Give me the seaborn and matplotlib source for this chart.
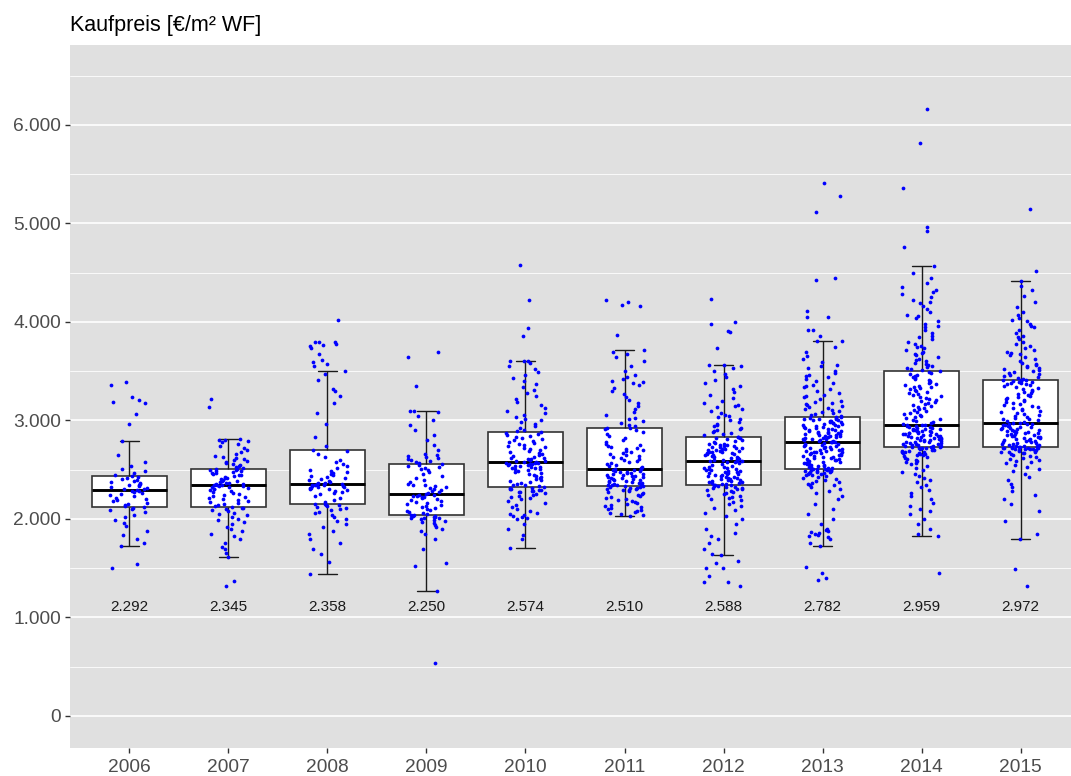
import numpy as np
import pandas as pd
import matplotlib
matplotlib.use("Agg")
import matplotlib.pyplot as plt
import seaborn as sns
from matplotlib.ticker import FuncFormatter, MultipleLocator

# Kaufpreise je Jahr [EUR/m² WF]
jahre = ["2006", "2007", "2008", "2009", "2010", "2011", "2012", "2013", "2014", "2015"]

preis_2006 = [
    1503, 1543, 1726, 1760, 1800, 1840, 1880, 1930, 1960, 1990, 2020, 2045, 2070, 2090, 2100, 2110,
    2119,
    2130, 2140, 2150, 2165, 2180, 2190, 2200, 2215, 2230, 2240, 2250, 2260, 2270, 2280, 2287,
    2292,
    2300, 2305, 2315, 2320, 2330, 2340, 2350, 2360, 2370, 2380, 2390, 2400, 2410, 2420, 2428,
    2433,
    2450, 2470, 2490, 2510, 2540, 2580, 2650, 2792, 2968, 3063, 3181, 3185, 3208, 3239, 3360, 3388,
]
preis_2007 = [
    1323, 1374, 1614, 1650, 1700, 1720, 1760, 1800, 1830, 1850, 1880, 1900, 1920, 1950, 1970, 1990,
    2000, 2020, 2040, 2050, 2065, 2080, 2090, 2100, 2108, 2114,
    2119,
    2130, 2140, 2150, 2160, 2170, 2180, 2190, 2200, 2210, 2220, 2230, 2240, 2250, 2260, 2270, 2280,
    2290, 2300, 2305, 2310, 2320, 2325, 2330, 2335, 2340,
    2345,
    2350, 2355, 2360, 2365, 2370, 2380, 2385, 2390, 2400, 2410, 2415, 2420, 2430, 2440, 2445, 2450,
    2460, 2465, 2470, 2480, 2485, 2490, 2495, 2500, 2505,
    2511,
    2520, 2530, 2540, 2550, 2560, 2570, 2580, 2590, 2600, 2610, 2620, 2630, 2640, 2660, 2680, 2700,
    2720, 2740, 2760, 2780, 2790, 2800, 2805, 2812, 3134, 3215,
]
preis_2008 = [
    1445, 1560, 1640, 1700, 1760, 1800, 1850, 1880, 1920, 1950, 1980, 2000, 2020, 2040, 2060, 2075,
    2090, 2100, 2110, 2120, 2130, 2140, 2145, 2150,
    2156,
    2170, 2190, 2210, 2230, 2250, 2260, 2270, 2280, 2290, 2300, 2305, 2310, 2315, 2320, 2325, 2330,
    2335, 2340, 2345, 2348, 2350, 2352, 2355,
    2358,
    2365, 2370, 2380, 2390, 2400, 2410, 2420, 2430, 2440, 2450, 2460, 2470, 2480, 2490, 2500, 2520,
    2540, 2560, 2580, 2600, 2630, 2660, 2690,
    2700,
    2740, 2830, 2960, 3080, 3180, 3250, 3300, 3320, 3415, 3472, 3500, 3550, 3574, 3597, 3618, 3672,
    3733, 3756, 3767, 3780, 3794, 3794, 3800, 4017,
]
preis_2009 = [
    536, 1272, 1526, 1550, 1700, 1800, 1850, 1880, 1900, 1920, 1940, 1960, 1970, 1980, 1990, 2000,
    2005, 2010, 2015, 2020, 2025, 2030, 2035, 2038,
    2041,
    2050, 2060, 2070, 2080, 2090, 2100, 2110, 2120, 2130, 2140, 2150, 2160, 2170, 2180, 2190, 2200,
    2210, 2220, 2225, 2230, 2235, 2240, 2245,
    2250,
    2260, 2270, 2280, 2290, 2300, 2310, 2320, 2330, 2340, 2350, 2360, 2380, 2400, 2420, 2440, 2460,
    2480, 2500, 2510, 2520, 2530, 2540, 2550,
    2560,
    2570, 2580, 2590, 2600, 2610, 2620, 2630, 2640, 2650, 2660, 2700, 2750, 2800, 2850, 2900, 2950,
    3000, 3050, 3090, 3093, 3093, 3350, 3641, 3695,
]
preis_2010 = [
    1709, 1800, 1840, 1900, 1950, 2000, 2010, 2020, 2030, 2040, 2050, 2060, 2080, 2100, 2120, 2140,
    2160, 2180, 2200, 2210, 2220, 2230, 2240, 2250, 2260, 2270, 2275, 2280, 2285, 2290, 2295, 2300,
    2305, 2310, 2315,
    2320,
    2330, 2340, 2350, 2360, 2370, 2380, 2390, 2400, 2410, 2420, 2430, 2440, 2450, 2460, 2470, 2480,
    2490, 2500, 2505, 2510, 2515, 2520, 2525, 2530, 2535, 2540, 2545, 2550, 2555, 2560, 2563, 2566,
    2569, 2571,
    2574,
    2580, 2585, 2590, 2595, 2600, 2605, 2610, 2615, 2620, 2630, 2640, 2650, 2660, 2670, 2680, 2690,
    2700, 2710, 2720, 2730, 2740, 2750, 2760, 2770, 2780, 2790, 2800, 2810, 2820, 2830, 2840, 2850,
    2860, 2870,
    2879,
    2890, 2900, 2920, 2940, 2960, 2980, 3000, 3020, 3040, 3060, 3080, 3100, 3130, 3160, 3190, 3220,
    3250, 3280, 3310, 3340, 3370, 3400, 3430, 3460, 3490, 3520, 3550, 3580, 3600, 3600, 3600, 3855,
    3936, 4220, 4582,
]
preis_2011 = [
    2034, 2040, 2050, 2060, 2070, 2080, 2090, 2100, 2110, 2120, 2130, 2140, 2150, 2160, 2170, 2180,
    2190, 2200, 2210, 2220, 2230, 2240, 2250, 2260, 2270, 2280, 2290, 2295, 2300, 2305, 2310, 2315,
    2320, 2325, 2330,
    2334,
    2340, 2345, 2350, 2355, 2360, 2365, 2370, 2375, 2380, 2385, 2390, 2395, 2400, 2405, 2410, 2415,
    2420, 2425, 2430, 2435, 2440, 2445, 2450, 2455, 2460, 2465, 2470, 2475, 2480, 2485, 2490, 2495,
    2500, 2505,
    2510,
    2520, 2530, 2540, 2550, 2560, 2570, 2580, 2590, 2600, 2610, 2620, 2630, 2640, 2650, 2660, 2670,
    2680, 2690, 2700, 2710, 2720, 2730, 2740, 2750, 2760, 2780, 2800, 2820, 2840, 2860, 2880, 2900,
    2910, 2920,
    2927,
    2940, 2950, 2970, 2990, 3010, 3030, 3060, 3090, 3120, 3150, 3180, 3210, 3240, 3270, 3300, 3330,
    3360, 3380, 3390, 3400, 3420, 3440, 3460, 3500, 3550, 3600, 3640, 3680, 3700, 3716, 3869, 4160,
    4176, 4207, 4227,
]
preis_2012 = [
    1320, 1364, 1364, 1421, 1506, 1506, 1557, 1574, 1631, 1645, 1700, 1753, 1800, 1830, 1860, 1900,
    1950, 2000, 2030, 2060, 2090, 2110, 2130, 2150, 2170, 2190, 2200, 2210, 2220, 2230, 2240, 2250,
    2260, 2270, 2280, 2290, 2300, 2305, 2310, 2315, 2320, 2325, 2330, 2335, 2340,
    2345,
    2350, 2355, 2360, 2365, 2370, 2375, 2380, 2385, 2390, 2395, 2400, 2405, 2410, 2415, 2420, 2425,
    2430, 2435, 2440, 2445, 2450, 2455, 2460, 2465, 2470, 2475, 2480, 2485, 2490, 2495, 2500, 2505,
    2510, 2515, 2520, 2525, 2530, 2540, 2550, 2560, 2570, 2575, 2580, 2585,
    2588,
    2590, 2595, 2600, 2605, 2610, 2615, 2620, 2625, 2630, 2635, 2640, 2645, 2650, 2655, 2660, 2665,
    2670, 2675, 2680, 2685, 2690, 2695, 2700, 2705, 2710, 2715, 2720, 2725, 2730, 2735, 2740, 2745,
    2750, 2755, 2760, 2765, 2770, 2780, 2790, 2800, 2810, 2820, 2825, 2830,
    2836,
    2850, 2860, 2870, 2880, 2890, 2900, 2910, 2920, 2940, 2950, 2960, 2980, 3000, 3020, 3040, 3050,
    3060, 3080, 3100, 3120, 3140, 3150, 3160, 3180, 3200, 3230, 3260, 3290, 3320, 3350, 3380, 3410,
    3440, 3470, 3500, 3530, 3550, 3566, 3566, 3736, 3895, 3912, 3980, 4003, 4230,
]
preis_2013 = [
    1381, 1397, 1455, 1513, 1723, 1760, 1800, 1820, 1830, 1840, 1850, 1860, 1870, 1880, 1890, 1900,
    1950, 2000, 2050, 2100, 2150, 2200, 2230, 2260, 2280, 2300, 2320, 2340, 2350, 2360, 2370, 2380,
    2390, 2400, 2410, 2420, 2430, 2440, 2445, 2450, 2455, 2460, 2465, 2470, 2475, 2480, 2482, 2485,
    2488, 2490, 2492, 2495, 2498, 2500, 2505,
    2508,
    2512, 2518, 2522, 2527, 2531, 2536, 2540, 2545, 2550, 2556, 2560, 2565, 2570, 2574, 2580, 2585,
    2590, 2595, 2600, 2605, 2610, 2615, 2620, 2626, 2630, 2635, 2640, 2645, 2650, 2655, 2660, 2665,
    2670, 2675, 2680, 2685, 2690, 2695, 2700, 2705, 2710, 2715, 2720, 2725, 2730, 2735, 2740, 2745,
    2750, 2755, 2760, 2765, 2770, 2777,
    2782,
    2786, 2790, 2795, 2800, 2804, 2808, 2812, 2816, 2820, 2825, 2830, 2834, 2838, 2842, 2846, 2850,
    2855, 2860, 2865, 2870, 2874, 2878, 2882, 2886, 2890, 2895, 2900, 2905, 2910, 2915, 2920, 2925,
    2930, 2935, 2940, 2945, 2950, 2955, 2960, 2965, 2970, 2975, 2980, 2985, 2990, 2995, 3000, 3005,
    3010, 3015, 3020, 3025, 3030, 3035,
    3039,
    3050, 3060, 3070, 3080, 3090, 3100, 3110, 3120, 3130, 3140, 3150, 3160, 3170, 3180, 3190, 3200,
    3220, 3240, 3250, 3260, 3280, 3300, 3320, 3340, 3350, 3360, 3380, 3400, 3420, 3440, 3450, 3460,
    3480, 3500, 3530, 3550, 3560, 3590, 3620, 3650, 3700, 3750, 3807, 3807, 3861, 3915, 3915, 4047,
    4047, 4115, 4426, 4443, 5120, 5280, 5410,
]
preis_2014 = [
    1449, 1827, 1850, 1900, 1950, 2000, 2050, 2080, 2100, 2130, 2160, 2200, 2230, 2260, 2290, 2320,
    2350, 2380, 2400, 2420, 2440, 2460, 2480, 2500, 2520, 2540, 2560, 2570, 2580, 2590, 2600, 2610,
    2620, 2630, 2640, 2645, 2650, 2655, 2660, 2665, 2670, 2675, 2680, 2685, 2690, 2695, 2700, 2705,
    2710, 2715, 2718, 2721, 2724, 2727, 2730,
    2734,
    2738, 2742, 2746, 2750, 2754, 2758, 2762, 2766, 2770, 2774, 2778, 2782, 2786, 2790, 2794, 2798,
    2802, 2806, 2810, 2814, 2818, 2822, 2826, 2830, 2834, 2838, 2842, 2846, 2850, 2854, 2858, 2862,
    2866, 2870, 2874, 2878, 2882, 2886, 2890, 2894, 2898, 2902, 2906, 2910, 2914, 2918, 2922, 2926,
    2930, 2934, 2940, 2945, 2950, 2955,
    2959,
    2965, 2975, 2985, 2995, 3005, 3015, 3025, 3035, 3045, 3055, 3065, 3075, 3085, 3095, 3105, 3115,
    3125, 3135, 3145, 3155, 3165, 3175, 3185, 3195, 3205, 3215, 3225, 3235, 3245, 3255, 3265, 3275,
    3285, 3295, 3305, 3315, 3325, 3335, 3345, 3355, 3365, 3375, 3385, 3395, 3405, 3415, 3425, 3435,
    3445, 3455, 3465, 3475, 3485, 3495,
    3503,
    3510, 3520, 3530, 3540, 3550, 3560, 3570, 3580, 3600, 3610, 3620, 3640, 3660, 3680, 3690, 3700,
    3720, 3740, 3750, 3760, 3780, 3800, 3830, 3850, 3860, 3890, 3920, 3950, 3960, 3980, 4010, 4040,
    4060, 4070, 4100, 4130, 4160, 4190, 4200, 4220, 4250, 4280, 4300, 4320, 4360, 4400, 4450, 4500,
    4572, 4761, 4924, 4964, 5360, 5817, 6162,
]
preis_2015 = [
    1323, 1496, 1800, 1850, 1980, 2080, 2150, 2200, 2240, 2280, 2320, 2360, 2400, 2430, 2460, 2490,
    2510, 2530, 2550, 2570, 2580, 2590, 2600, 2610, 2620, 2630, 2640, 2650, 2660, 2665, 2670, 2675,
    2680, 2685, 2690, 2695, 2700, 2703, 2706, 2709, 2712, 2714, 2716, 2718, 2720, 2722, 2724, 2726,
    2728, 2730,
    2731,
    2736, 2741, 2746, 2751, 2756, 2761, 2766, 2771, 2776, 2781, 2786, 2791, 2796, 2801, 2806, 2811,
    2816, 2821, 2826, 2831, 2836, 2841, 2846, 2851, 2856, 2861, 2866, 2871, 2876, 2881, 2886, 2891,
    2896, 2901, 2906, 2911, 2916, 2921, 2926, 2931, 2936, 2941, 2946, 2951, 2956, 2960, 2964, 2967,
    2970,
    2972,
    2980, 2990, 3000, 3010, 3020, 3030, 3040, 3050, 3060, 3070, 3080, 3090, 3100, 3110, 3120, 3130,
    3140, 3150, 3160, 3170, 3180, 3190, 3200, 3210, 3220, 3230, 3240, 3250, 3260, 3270, 3280, 3290,
    3300, 3310, 3320, 3330, 3340, 3350, 3360, 3370, 3375, 3380, 3385, 3390, 3395, 3400, 3403, 3406,
    3408,
    3411,
    3420, 3430, 3440, 3450, 3460, 3470, 3480, 3490, 3500, 3510, 3520, 3530, 3540, 3550, 3560, 3570,
    3580, 3600, 3620, 3640, 3660, 3680, 3690, 3700, 3720, 3740, 3760, 3780, 3800, 3830, 3850, 3860,
    3890, 3920, 3950, 3960, 3980, 4010, 4020, 4040, 4070, 4100, 4150, 4200, 4260, 4320, 4362, 4413,
    4518, 5150,
]

werte = [preis_2006, preis_2007, preis_2008, preis_2009, preis_2010,
         preis_2011, preis_2012, preis_2013, preis_2014, preis_2015]

df = pd.DataFrame({
    "jahr": np.repeat(jahre, [len(w) for w in werte]),
    "preis": np.concatenate(werte).astype(float),
})

LABEL_Y = 1105  # Hoehe der Median-Beschriftung

sns.set_theme(style="darkgrid")
plt.rcParams["font.family"] = ["Liberation Sans", "DejaVu Sans"]

fig = plt.figure(figsize=(10.71, 7.76), dpi=100)
ax = fig.add_axes([70 / 1071, 28 / 776, 1010 / 1071, 703 / 776])
ax.set_facecolor("#e0e0e0")

sns.boxplot(
    data=df, x="jahr", y="preis", order=jahre, ax=ax,
    width=0.75, whis=1.5, showfliers=False,
    color="white", linecolor="#333333", linewidth=1.2,
    medianprops={"color": "black", "linewidth": 2.1},
    whiskerprops={"color": "#1a1a1a", "linewidth": 1.0},
    capprops={"color": "#1a1a1a", "linewidth": 1.0},
    capwidths=0.2,
)
sns.stripplot(
    data=df, x="jahr", y="preis", order=jahre, ax=ax,
    jitter=0.2, color="#0000ff", size=2.7, linewidth=0, zorder=3,
)

medians = df.groupby("jahr")["preis"].median().reindex(jahre)
for i, m in enumerate(medians):
    ax.text(i, LABEL_Y, f"{int(round(m)):,}".replace(",", "."),
            ha="center", va="center", fontsize=11, color="#1a1a1a")

ax.set_xlim(-0.6, 9.6)
ax.set_ylim(-325, 6812)
ax.yaxis.set_major_locator(MultipleLocator(1000))
ax.yaxis.set_minor_locator(MultipleLocator(500))
ax.yaxis.set_major_formatter(FuncFormatter(lambda v, p: f"{int(v):,}".replace(",", ".")))
ax.grid(False)
ax.yaxis.grid(True, which="major", color="white", linewidth=1.2)
ax.yaxis.grid(True, which="minor", color="white", linewidth=0.6)
ax.set_axisbelow(True)
for s in ax.spines.values():
    s.set_visible(False)

ax.tick_params(axis="both", which="major", length=3.8, width=1.0, color="#333333",
               labelsize=13.8, labelcolor="#4d4d4d", left=True, bottom=True)
ax.tick_params(axis="y", which="major", pad=2.5)
ax.tick_params(axis="x", which="major", pad=4)
ax.tick_params(axis="y", which="minor", length=0)
ax.set_xlabel("")
ax.set_ylabel("")

fig.text(70 / 1071, 1 - 25 / 776, "Kaufpreis [€/m² WF]", fontsize=15.5,
         ha="left", va="center", color="black")

fig.savefig("out.png", dpi=100)
plt.close(fig)
